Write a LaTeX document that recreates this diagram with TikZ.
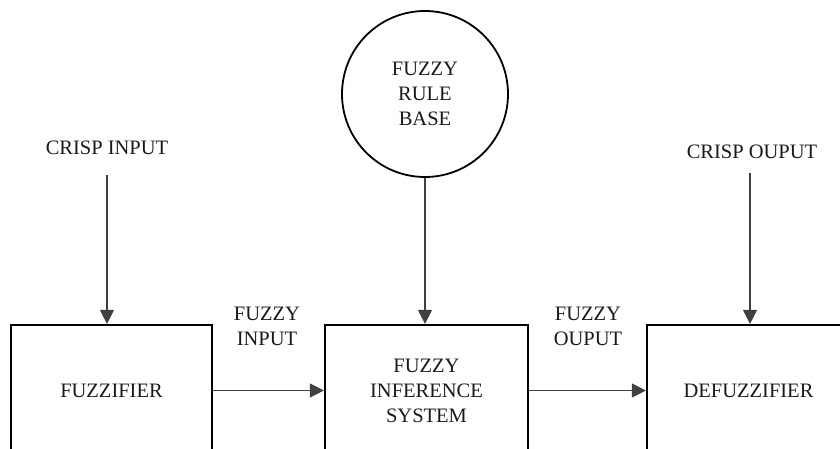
\documentclass[tikz,border=0pt]{standalone}
\usepackage{fontspec}
\setmainfont{Liberation Serif}
\usetikzlibrary{arrows.meta}
\begin{document}
\begin{tikzpicture}[x=1pt,y=-1pt,
  every node/.style={font=\fontsize{20.5}{25}\selectfont, text=black!90, align=center, inner sep=0pt},
  block/.style={draw=black, line width=2.2pt, minimum width=203pt, minimum height=131pt},
  base/.style={draw=black, line width=1.8pt, circle, minimum size=166pt},
  flow/.style={draw=black!75, line width=1.1pt, -{Triangle[length=14pt,width=14pt]}},
  tag/.style={}
]
\useasboundingbox (0,0) rectangle (840,448);
\clip (0,0) rectangle (840,448);

% processing stages
\node[block, minimum width=201pt] (fuzz) at (111.5,390.5) {FUZZIFIER};
\node[block] (fis) at (426.5,390.5) {FUZZY\\INFERENCE\\SYSTEM};
\node[block] (defuzz) at (748.5,390.5) {DEFUZZIFIER};

% rule base
\node[base] (rules) at (425,94) {FUZZY\\RULE\\BASE};

% crisp values in and out
\node[tag] (cinlbl) at (107,148) {CRISP INPUT};
\coordinate (cin) at (107,175);
\node[tag] (coutlbl) at (752,152) {CRISP OUPUT};
\coordinate (cout) at (750,173);

% intermediate labels
\node[tag] (fin) at (267,326.5) {FUZZY\\INPUT};
\node[tag] (fout) at (588,326.5) {FUZZY\\OUPUT};

% connectors
\draw[flow] (cin) -- (cin |- fuzz.north);
\draw[flow] (cout) -- (cout |- defuzz.north);
\draw[flow] (rules.south) -- (rules.south |- fis.north);
\draw[flow] (fuzz.east) -- (fis.west);
\draw[flow] (fis.east) -- (defuzz.west);
\end{tikzpicture}
\end{document}
